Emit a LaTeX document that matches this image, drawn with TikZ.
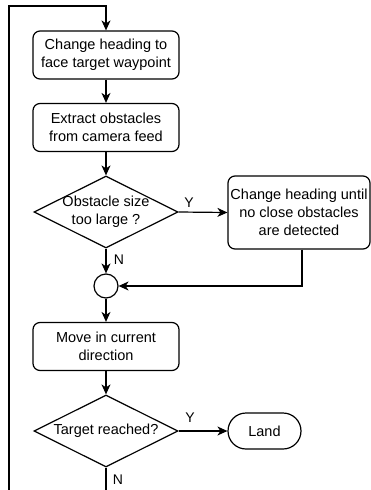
\documentclass[tikz,border=0pt]{standalone}
\usepackage{fontspec}
\setmainfont{Liberation Sans}
\usetikzlibrary{shapes.geometric,arrows.meta}
\begin{document}
\begin{tikzpicture}[x=1pt,y=-1pt,
  every node/.style={font=\fontsize{14.5}{18}\selectfont},
  box/.style={draw,line width=1.2pt,rounded corners=7pt,minimum width=146pt,minimum height=48pt,align=center,inner sep=0pt},
  dec/.style={draw,line width=1.2pt,diamond,aspect=2,inner sep=-2pt,minimum width=144pt,minimum height=72pt,align=center},
  joint/.style={draw,line width=1.2pt,circle,minimum size=24pt,inner sep=0pt},
  term/.style={draw,line width=1.2pt,rounded corners=18pt,minimum width=73pt,minimum height=36pt,inner sep=0pt},
  arr/.style={draw,line width=1.2pt,-{Stealth[length=10pt,width=9pt,inset=3pt]}},
  lbl/.style={font=\fontsize{14}{16}\selectfont,inner sep=0pt}
]
\useasboundingbox (0,0) rectangle (371,490);
\clip (0,0) rectangle (371,490);

\node[box] (b1) at (106,55) {Change heading to\\face target waypoint};
\node[box] (b2) at (106,127.5) {Extract obstacles\\from camera feed};
\node[dec] (d1) at (106,212) {Obstacle size\\too large ?};
\node[box,minimum width=142pt,minimum height=73pt] (b3) at (299,212.5) {Change heading until\\no close obstacles\\are detected};
\node[joint] (c) at (106,286) {};
\node[box] (b4) at (106,346.5) {Move in current\\direction};
\node[dec] (d2) at (106,431) {Target reached?};
\node[term] (land) at (264.5,431) {Land};

\coordinate (lb) at (9,520);
\coordinate (lt) at (9,6);

\draw[arr] (b1) -- (b2);
\draw[arr] (b2) -- (d1);
\draw[arr] (d1.east) -- (b3.west);
\node[lbl] (y1) at (189,203) {Y};
\draw[arr] (d1.south) -- (c.north);
\node[lbl] (n1) at (119,260) {N};
\draw[arr] ([xshift=3pt]b3.south) |- (c.east);
\draw[arr] (c) -- (b4);
\draw[arr] (b4) -- (d2);
\draw[arr] (d2.east) -- (land.west);
\node[lbl] (y2) at (190,418) {Y};
\draw[arr] (d2.south) -- (d2.south |- lb) -- (lb) -- (lt) -| (b1.north);
\node[lbl] (n2) at (118,480) {N};
\end{tikzpicture}
\end{document}
